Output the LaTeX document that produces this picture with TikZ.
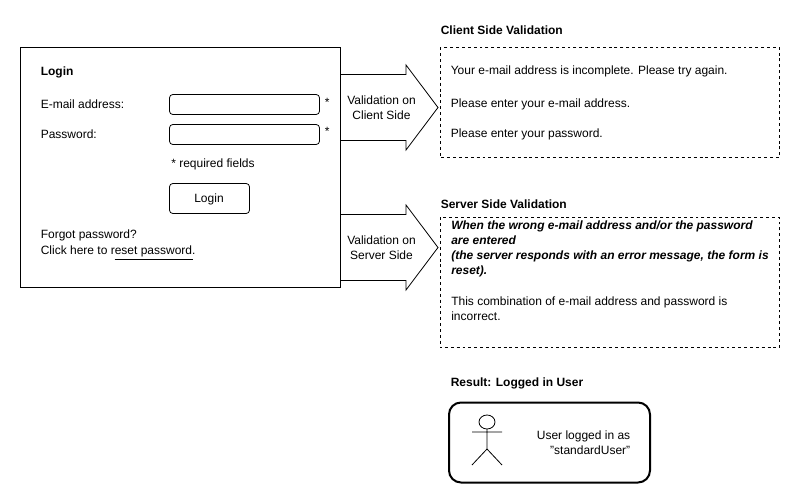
\documentclass[tikz,border=0pt]{standalone}
\usepackage{fontspec}
\setmainfont{Liberation Sans}
\tikzset{
  txt/.style={anchor=west,inner sep=0.75pt,font=\fontsize{9}{10.5}\selectfont},
  hdr/.style={txt,font=\fontsize{9}{10.5}\selectfont\bfseries},
  field/.style={draw,rounded corners=2.5pt,line width=0.6pt},
  dashbox/.style={draw,dashed,dash pattern=on 2.2pt off 2.2pt,line width=0.6pt},
  blockarrow/.style={draw,fill=white,line width=0.6pt},
  midtxt/.style={align=center,inner sep=0.75pt,font=\fontsize{9}{11.25}\selectfont},
}
\begin{document}
\begin{tikzpicture}[x=0.75pt,y=0.75pt,yscale=-1,xscale=1]
\useasboundingbox (0,0) rectangle (800,500);

%Block arrows
\draw [blockarrow] (340,74.5) -- (406,74.5) -- (406,65) -- (438,107.5) -- (406,150) -- (406,140.5) -- (340,140.5);
\node [midtxt] (clientarrow) at (381.5,107.5) {Validation on\\Client Side};
\draw [blockarrow] (340,214.5) -- (406,214.5) -- (406,205) -- (438,247.5) -- (406,290) -- (406,280.5) -- (340,280.5);
\node [midtxt] (serverarrow) at (381.5,247.5) {Validation on\\Server Side};

%Login form
\draw [line width=0.75pt] (20.5,47.5) rectangle (340,287.5);
\node [hdr] (logintitle) at (39.5,72.5) {Login};
\node [txt] (maillabel) at (39.5,104) {E-mail address:};
\node [txt] (passlabel) at (39.5,134) {Password:};
\draw [field] (169.5,94.5) rectangle (319.5,114.5);
\draw [field] (169.5,124.5) rectangle (319.5,144.5);
\node [txt] (mailstar) at (323.5,102.5) {*};
\node [txt] (passstar) at (323.5,131.5) {*};
\node [txt] (reqnote) at (170,164.5) {* required fields};
\draw [field] (169.5,183.5) rectangle (249.5,213.5);
\node [midtxt] (loginbtn) at (209,199) {Login};
\node [txt] (forgot) at (39.5,235) {Forgot password?};
\node [txt] (resetlink) at (39.5,251) {Click here to reset password.};
\draw [line width=0.6pt] (114.5,259.5) -- (192.5,259.5);

%Client side messages
\node [hdr] (clienttitle) at (439.5,30.5) {Client Side Validation};
\draw [dashbox] (440,47.5) rectangle (779.5,157.5);
\node [txt] (clientmsga) at (449.5,71) {Your e-mail address is incomplete. Please try again.};
\node [txt] (clientmsgb) at (449.5,104.5) {Please enter your e-mail address.};
\node [txt] (clientmsgc) at (449.5,134.5) {Please enter your password.};

%Server side messages
\node [hdr] (servertitle) at (439.5,204) {Server Side Validation};
\draw [dashbox] (440,217.5) rectangle (779.5,347.5);
\node [txt,font=\fontsize{9}{11.25}\selectfont\bfseries\itshape,align=left,anchor=north west] (serverwhen) at (450,220) {When the wrong e-mail address and/or the password\\are entered\\(the server responds with an error message, the form is\\reset).};
\node [txt,align=left,font=\fontsize{9}{11.25}\selectfont,anchor=north west] (servermsg) at (450,295.5) {This combination of e-mail address and password is\\incorrect.};

%Result
\node [hdr] (resulttitle) at (449.5,383) {Result: Logged in User};
\draw [line width=1.5pt,rounded corners=9pt] (449,402.5) rectangle (650,482.5);
\draw [line width=0.6pt] (487,422) ellipse (8 and 7);
\draw [line width=0.6pt] (472,432) -- (502,432) (487,429) -- (487,449) (472,465) -- (487,449) -- (502,465);
\node [midtxt,align=right,anchor=east] (resulttext) at (631.5,442.5) {User logged in as\\\char34 standardUser\char34};
\end{tikzpicture}
\end{document}
